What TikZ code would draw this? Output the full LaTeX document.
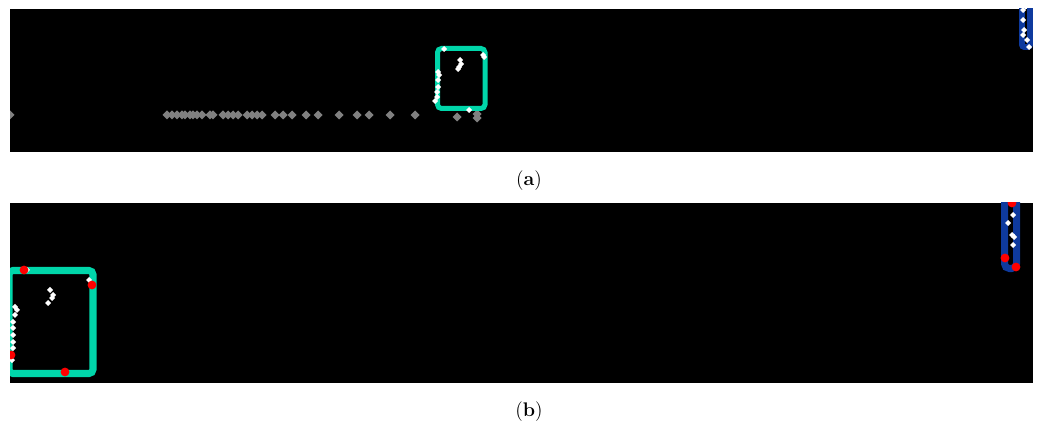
\documentclass[tikz,border=0pt]{standalone}
\usepackage{tikz}
\definecolor{boxteal}{RGB}{0,214,170}
\definecolor{boxblue}{RGB}{14,58,158}
\definecolor{ptgray}{RGB}{128,128,128}
\definecolor{ptred}{RGB}{255,0,0}

\begin{document}
\begin{tikzpicture}[x=0.025cm,y=-0.025cm,
    caption/.style={font=\fontsize{14}{16}\selectfont,inner sep=0pt},
    tealbox/.style={draw=boxteal,rounded corners=0.1cm},
    bluebox/.style={draw=boxblue}]
    \useasboundingbox (0,0) rectangle (1041,426);
    % panel (a)
    \begin{scope}
      \fill[black] (10,9) rectangle (1033,152);
      \clip (10,9) rectangle (1033,152);
      \foreach \px in {10,167,172,177,182,185,190,193,197,202,210,213,223,228,233,238,247,252,257,262,275,283,292,306,318,339,357,369,390,415}
        \fill[ptgray] (\px,115) +(-4.5,0) -- +(0,-4.5) -- +(4.5,0) -- +(0,4.5) -- cycle;
      \foreach \px/\py in {457/117,477/114,477/118}
        \fill[ptgray] (\px,\py) +(-4.5,0) -- +(0,-4.5) -- +(4.5,0) -- +(0,4.5) -- cycle;
      \draw[tealbox,line width=0.125cm] (437.5,48.5) rectangle (485,108.5);
      \draw[bluebox,line width=0.14cm,rounded corners=0.05cm] (1022,0) -- (1022,47) -- (1030,47) -- (1030,0);
      \foreach \px/\py in {444/49,483/55,484/57,460/60,461/64,459/67,458/69,438/72,439/75,438/80,438/87,437/92,437/97,435/101,469/110,1023/10,1023/20,1024/30,1023/35,1027/40,1029/47}
        \fill[white] (\px,\py) +(-3,0) -- +(0,-3) -- +(3,0) -- +(0,3) -- cycle;
    \end{scope}
    \node[caption] (capA) at (529,181) {(\textbf{a})};
    % panel (b)
    \begin{scope}
      \fill[black] (10,203) rectangle (1033,383);
      \clip (10,203) rectangle (1033,383);
      \draw[tealbox,line width=0.175cm] (9,270.5) rectangle (93,373.5);
      \draw[bluebox,line width=0.175cm,rounded corners=0.12cm] (1004.5,195) -- (1004.5,268.5) -- (1016.5,268.5) -- (1016.5,195);
      \foreach \px/\py in {27/270,89/280,50/290,53/295,52/298,48/303,15/307,17/310,15/315,13/322,13/328,13/335,13/342,13/348,12/360,1013/215,1008/223,1012/235,1014/237,1013/245}
        \fill[white] (\px,\py) +(-3,0) -- +(0,-3) -- +(3,0) -- +(0,3) -- cycle;
      \foreach \px/\py in {24/270,92/285,65/372,11/355,1012/203,1005/258,1016/267}
        \fill[ptred] (\px,\py) circle[radius=0.11cm];
    \end{scope}
    \node[caption] (capB) at (529,412) {(\textbf{b})};
  \end{tikzpicture}
\end{document}
